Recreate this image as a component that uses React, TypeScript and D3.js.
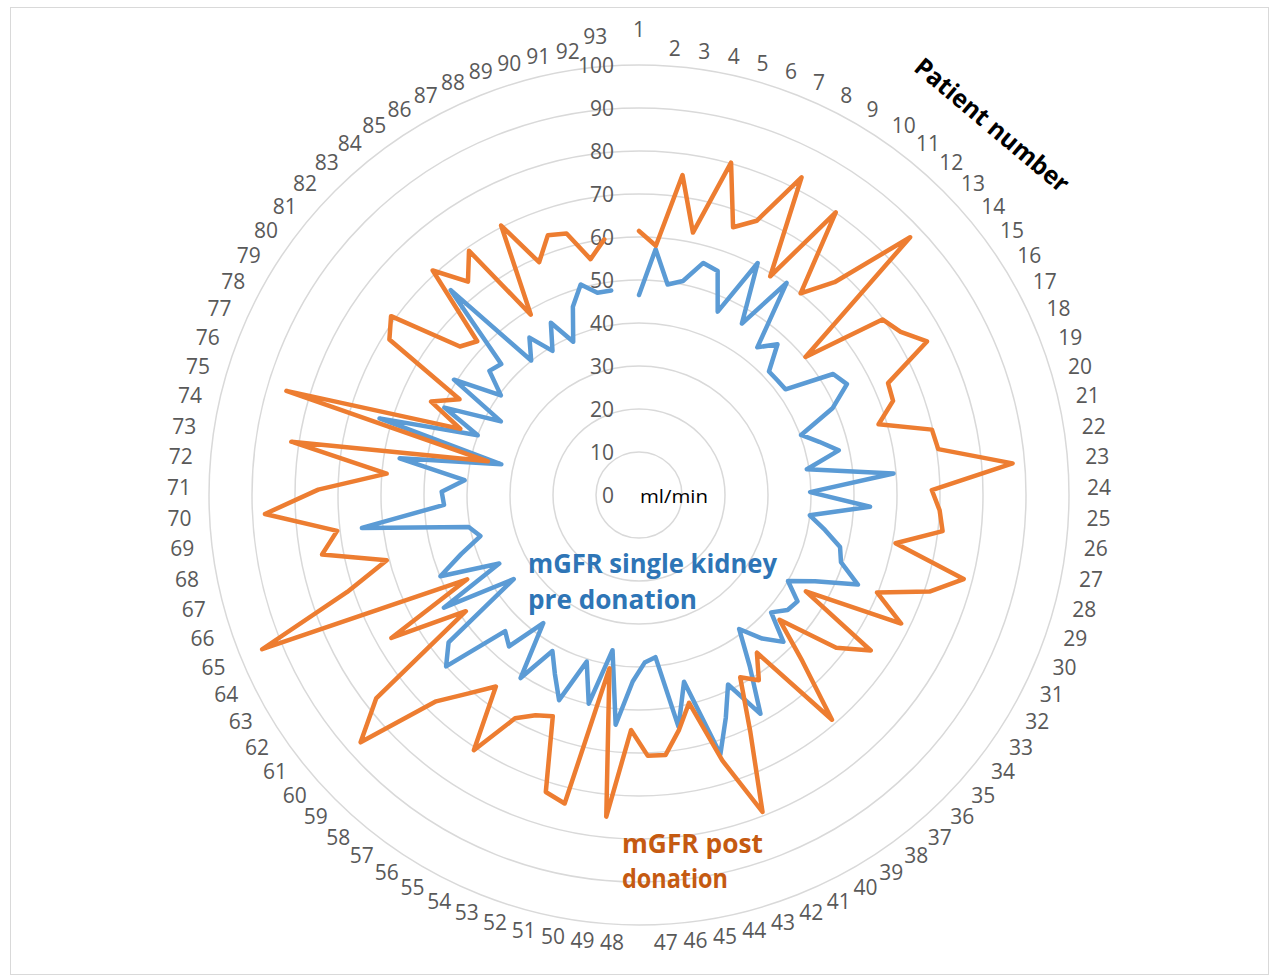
import React from 'react';
import * as d3 from 'd3';

// Categories: patient numbers 1..93
const patients: string[] = d3.range(1, 94).map((n) => String(n));

// mGFR single kidney pre donation (ml/min); patient 93 has no value
const preDonation: (number | null)[] = [
  46.5, 57.3, 49.4, 50.8, 56.0, 55.2, 46.4, 60.6, 46.5, 60.1,
  44.0, 47.6, 41.7, 41.8, 42.0, 53.2, 54.8, 49.4, 40.2, 43.7,
  47.6, 39.5, 59.4, 39.8, 53.8, 40.0, 44.0, 48.3, 49.5, 55.0,
  45.6, 40.0, 44.4, 43.7, 41.1, 47.9, 44.0, 38.9, 47.4, 58.2,
  48.7, 55.6, 63.2, 44.7, 54.7, 37.9, 39.0, 43.4, 53.7, 36.6,
  49.9, 40.6, 51.2, 46.0, 41.5, 50.7, 37.2, 46.4, 44.4, 60.0,
  56.0, 35.1, 52.4, 36.2, 49.9, 43.6, 38.1, 40.3, 64.9, 45.4,
  45.9, 40.7, 56.3, 32.8, 62.9, 40.0, 49.6, 36.4, 50.7, 39.6,
  45.2, 44.2, 64.7, 40.1, 44.6, 39.1, 45.0, 38.8, 46.4, 50.8,
  48.0, 48.0, null,
];

// mGFR post donation (ml/min); patient 93 has no value
const postDonation: (number | null)[] = [
  61.4, 58.1, 75.1, 62.3, 80.2, 66.0, 69.4, 83.0, 59.3, 80.1,
  60.1, 67.2, 87.0, 50.3, 69.8, 71.7, 75.9, 63.5, 63.0, 58.1,
  69.8, 70.4, 87.2, 68.1, 70.0, 71.1, 60.7, 78.0, 71.2, 59.8,
  67.9, 44.8, 64.9, 58.0, 43.7, 54.2, 68.9, 45.8, 51.3, 48.5,
  60.9, 79.1, 64.7, 49.7, 55.4, 60.8, 60.7, 54.7, 75.2, 40.9,
  73.8, 72.4, 55.2, 56.6, 59.4, 70.7, 55.6, 60.8, 67.3, 86.6,
  77.3, 48.5, 66.5, 44.5, 94.7, 71.5, 60.6, 75.0, 70.7, 87.1,
  74.6, 58.9, 81.8, 36.0, 85.5, 44.3, 53.0, 47.3, 68.4, 71.1,
  54.1, 51.9, 70.9, 63.6, 69.2, 48.9, 70.4, 58.9, 64.0, 63.1,
  56.0, 60.0, null,
];

const gridTicks: number[] = [0, 10, 20, 30, 40, 50, 60, 70, 80, 90, 100];

const W = 1271;
const H = 978;
const cx = 639;
const cy = 495;
const R = 430;

const BLUE = '#5B9BD5';
const ORANGE = '#ED7D31';
const GRID = '#D9D9D9';
const LABEL = '#595959';
const FONT = "'Open Sans', 'Liberation Sans', sans-serif";

export default function App() {
  const rScale = d3.scaleLinear().domain([0, 100]).range([0, R]);
  const aScale = d3.scaleLinear().domain([0, patients.length]).range([0, 2 * Math.PI]);

  const line = d3
    .lineRadial<number | null>()
    .angle((_d, i) => aScale(i))
    .radius((d) => rScale(d as number))
    .defined((d) => d != null)
    .curve(d3.curveLinear);

  const capH = 15;

  return (
    <svg
      width={W}
      height={H}
      style={{ position: 'absolute', left: 0, top: 0, background: '#fff' }}
      fontFamily={FONT}
    >
      <rect x={0} y={0} width={W} height={H} fill="#fff" />
      <rect x={10.5} y={7.5} width={1258} height={967} fill="none" stroke={GRID} strokeWidth={1} />

      {/* circular gridlines */}
      <g>
        {gridTicks.filter((t) => t > 0).map((t) => (
          <circle key={t} cx={cx} cy={cy} r={rScale(t)} fill="none" stroke={GRID} strokeWidth={1.5} />
        ))}
      </g>

      {/* value axis labels */}
      <g fontSize={21} fill={LABEL} textAnchor="end">
        {gridTicks.map((t) => (
          <text key={t} x={cx - 25} y={cy - rScale(t) + capH / 2}>
            {t}
          </text>
        ))}
      </g>

      {/* category labels */}
      <g fontSize={21} fill={LABEL}>
        {patients.map((p, i) => {
          const a = aScale(i);
          const s = Math.sin(a);
          const c = Math.cos(a);
          const rl = 440 + 8 * s * s;
          let px = cx + rl * s;
          let py = cy - rl * c;
          if (i === 0) py -= 18;
          if (i === patients.length - 1) {
            py -= 12;
            px -= 2;
          }
          const anchor = s > 0.02 ? 'start' : s < -0.02 ? 'end' : 'middle';
          const by = py - (capH / 2) * c + capH / 2;
          return (
            <text key={p} x={px} y={by} textAnchor={anchor}>
              {p}
            </text>
          );
        })}
      </g>

      {/* series */}
      <g transform={`translate(${cx},${cy})`} fill="none" strokeLinejoin="round" strokeLinecap="round">
        <path d={line(preDonation) || ''} stroke={BLUE} strokeWidth={4.5} />
        <path d={line(postDonation) || ''} stroke={ORANGE} strokeWidth={4.5} />
      </g>

      {/* unit label */}
      <text x={640} y={503} fontSize={19} fill="#000" fontFamily={FONT} textLength={68} lengthAdjust="spacingAndGlyphs">
        ml/min
      </text>

      {/* series labels */}
      <g fontWeight="bold" fontSize={27} fill="#2E75B6">
        <text x={528} y={573} textLength={249} lengthAdjust="spacingAndGlyphs">mGFR single kidney</text>
        <text x={528} y={609} textLength={169} lengthAdjust="spacingAndGlyphs">pre donation</text>
      </g>
      <g fontWeight="bold" fontSize={27} fill="#C55A11">
        <text x={622} y={853} textLength={141} lengthAdjust="spacingAndGlyphs">mGFR post</text>
        <text x={622} y={888} textLength={106} lengthAdjust="spacingAndGlyphs">donation</text>
      </g>

      {/* axis title */}
      <text
        transform="translate(992,125) rotate(40)"
        textAnchor="middle"
        dy="0.35em"
        fontSize={25}
        fontWeight="bold"
        fill="#000"
        textLength={193}
        lengthAdjust="spacingAndGlyphs"
      >
        Patient number
      </text>
    </svg>
  );
}
